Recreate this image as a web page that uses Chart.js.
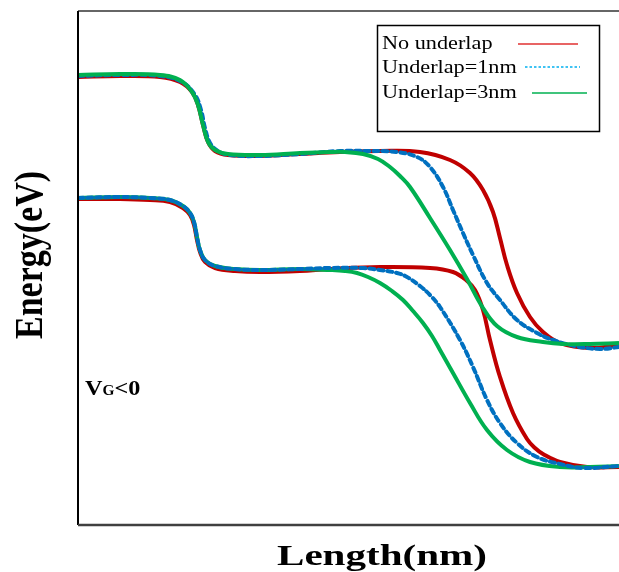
<!DOCTYPE html>
<html>
<head>
<meta charset="utf-8">
<script src="https://cdn.jsdelivr.net/npm/chart.js@4"></script>
<style>
  html, body { margin: 0; padding: 0; background: #fff; overflow: hidden; }
  canvas { display: block; }
</style>
</head>
<body>
<canvas id="bandChart" width="619" height="572"></canvas>
<script>
// 세 가지 underlap 조건의 밴드 다이어그램 (위: 전도대, 아래: 가전자대)
const seriesNames = ['No underlap', 'Underlap=1nm', 'Underlap=3nm'];

// No underlap
const lenRedCB = [0, 8.4, 16.4, 20.4, 22.8, 24, 25, 26, 27.4, 30, 36.4, 44.4, 52.4, 60.4, 68.4, 74.4, 78.4, 81, 83, 84.4, 85.8, 87.8, 90.4, 93, 96.4, 102.4, 108.2];
const eRedCB   = [2.23, 2.24, 2.23, 2.18, 2.08, 1.95, 1.75, 1.58, 1.49, 1.45, 1.44, 1.46, 1.48, 1.49, 1.48, 1.40, 1.27, 1.10, 0.88, 0.62, 0.35, 0.07, -0.17, -0.32, -0.43, -0.48, -0.45];
const lenRedVB = [0, 8.4, 14.4, 18.4, 21, 22.4, 23.2, 23.8, 24.4, 25.4, 27.4, 31.4, 36.4, 44.4, 50.4, 60.4, 70.4, 75, 77.6, 79.4, 81, 82.4, 84.4, 87, 89.8, 91.4, 93, 96.4, 101.8, 108.2];
const eRedVB   = [1.01, 1.01, 1.00, 0.98, 0.92, 0.85, 0.75, 0.60, 0.48, 0.38, 0.32, 0.29, 0.28, 0.29, 0.31, 0.33, 0.32, 0.28, 0.20, 0.10, -0.10, -0.40, -0.77, -1.13, -1.39, -1.48, -1.54, -1.62, -1.67, -1.67];

// Underlap = 1nm
const lenBlueCB = [0, 8.4, 16.4, 20.8, 23.4, 24.6, 25.4, 26.4, 28, 30.4, 36.4, 44.4, 52.4, 58.4, 63.8, 67.8, 70.4, 73, 75, 77, 79, 81.8, 84.4, 87.8, 91.8, 95, 99.4, 104.4, 108.2];
const eBlueCB   = [2.24, 2.25, 2.24, 2.18, 2.05, 1.90, 1.72, 1.57, 1.49, 1.45, 1.44, 1.46, 1.49, 1.49, 1.48, 1.43, 1.33, 1.13, 0.90, 0.67, 0.45, 0.17, 0.00, -0.20, -0.33, -0.40, -0.46, -0.49, -0.47];
const lenBlueVB = [0, 8.4, 14.4, 18.4, 21, 22.4, 23.2, 23.8, 24.4, 25.4, 27.4, 31.4, 36.4, 44.4, 50.4, 57, 60.4, 63.8, 65.8, 68.4, 70.4, 72.4, 76.4, 79, 81.8, 84.4, 87.8, 91.8, 96.4, 101, 108.2];
const eBlueVB   = [1.02, 1.03, 1.02, 1.00, 0.94, 0.87, 0.78, 0.63, 0.50, 0.40, 0.34, 0.31, 0.30, 0.31, 0.32, 0.32, 0.30, 0.27, 0.23, 0.14, 0.05, -0.07, -0.40, -0.67, -1.00, -1.23, -1.43, -1.57, -1.64, -1.68, -1.66];

// Underlap = 3nm
const lenGreenCB = [0, 8.4, 16.4, 20.4, 22.8, 24, 25, 26, 27.4, 30, 36.4, 44.4, 50.4, 53.4, 57, 60, 62.4, 64.4, 66.4, 70.4, 74.4, 77.8, 81, 83.8, 87.8, 93, 97, 102.4, 108.2];
const eGreenCB   = [2.25, 2.26, 2.25, 2.20, 2.08, 1.95, 1.75, 1.58, 1.50, 1.46, 1.45, 1.47, 1.48, 1.48, 1.46, 1.41, 1.33, 1.24, 1.13, 0.82, 0.50, 0.21, -0.08, -0.26, -0.37, -0.42, -0.44, -0.44, -0.43];
const lenGreenVB = [0, 8.4, 14.4, 18.4, 21, 22.4, 23.2, 23.8, 24.4, 25.4, 27.4, 31.4, 36.4, 44.4, 50.4, 53.4, 55.8, 58, 60.4, 62.8, 65, 67, 69, 70.8, 72.4, 75, 78.4, 81.8, 85.8, 90.4, 96.4, 102.4, 108.2];
const eGreenVB   = [1.02, 1.03, 1.02, 1.00, 0.94, 0.87, 0.78, 0.63, 0.50, 0.40, 0.34, 0.31, 0.30, 0.31, 0.30, 0.29, 0.27, 0.23, 0.17, 0.09, 0.00, -0.11, -0.23, -0.36, -0.50, -0.73, -1.03, -1.30, -1.50, -1.62, -1.67, -1.67, -1.66];

const RED = '#C00000';
const BLUE = '#0070C0';
const GREEN = '#00B050';

const toPoints = (xs, ys) => xs.map((x, i) => ({ x: x, y: ys[i] }));

const lineSet = (label, xs, ys, color, order, dashed) => ({
    label: label,
    data: toPoints(xs, ys),
    borderColor: color,
    borderWidth: 4,
    borderDash: dashed ? [5, 4] : [],
    borderCapStyle: dashed ? 'round' : 'butt',
    pointRadius: 0,
    fill: false,
    tension: 0.4,
    order: order
});

// 테두리, 범례, 축 제목, V_G<0 글자를 그리는 플러그인
const decorPlugin = {
    id: 'decor',
    afterDraw(chart) {
        const c = chart.ctx;
        const a = chart.chartArea;
        c.save();

        // 위/왼쪽/아래 테두리
        c.strokeStyle = '#333';
        c.lineWidth = 1.5;
        c.beginPath(); c.moveTo(a.left, a.top); c.lineTo(a.right, a.top); c.stroke();
        c.strokeStyle = '#000';
        c.lineWidth = 2;
        c.beginPath(); c.moveTo(a.left, a.top); c.lineTo(a.left, a.bottom); c.stroke();
        c.strokeStyle = '#404040';
        c.lineWidth = 2.5;
        c.beginPath(); c.moveTo(a.left, a.bottom); c.lineTo(a.right, a.bottom); c.stroke();

        // 가로로 약간 늘어난 글자
        const stretchText = (txt, x, y, font, sx, align) => {
            c.save();
            c.font = font;
            c.textAlign = align || 'left';
            c.textBaseline = 'alphabetic';
            c.translate(x, y);
            c.scale(sx, 1);
            c.fillText(txt, 0, 0);
            const w = c.measureText(txt).width * sx;
            c.restore();
            return w;
        };
        c.fillStyle = '#000';

        // 범례 상자
        c.strokeStyle = '#000';
        c.lineWidth = 1.5;
        c.strokeRect(377.5, 25.5, 222, 106);
        const legFont = '19px "Liberation Serif", "Times New Roman", serif';
        const legY = [49, 73, 98];
        seriesNames.forEach((name, i) => stretchText(name, 382, legY[i], legFont, 1.17));

        c.lineWidth = 1.5;
        c.strokeStyle = '#E03030';
        c.beginPath(); c.moveTo(518, 44); c.lineTo(578, 44); c.stroke();
        c.strokeStyle = '#00B0F0';
        c.setLineDash([2.5, 2]);
        c.beginPath(); c.moveTo(525, 67); c.lineTo(580, 67); c.stroke();
        c.setLineDash([]);
        c.strokeStyle = GREEN;
        c.beginPath(); c.moveTo(532, 93); c.lineTo(587, 93); c.stroke();

        // V_G<0
        const bold22 = 'bold 22px "Liberation Serif", "Times New Roman", serif';
        let px = 85;
        px += stretchText('V', px, 395, bold22, 1.1);
        px += stretchText('G', px, 395, 'bold 14px "Liberation Serif", "Times New Roman", serif', 1.1);
        stretchText('<0', px, 395, bold22, 1.1);

        // x축 제목
        stretchText('Length(nm)', 382, 565, 'bold 30px "Liberation Serif", "Times New Roman", serif', 1.37, 'center');

        // y축 제목 (세로)
        c.save();
        c.font = 'bold 34px "Liberation Serif", "Times New Roman", serif';
        c.textAlign = 'center';
        c.textBaseline = 'alphabetic';
        c.translate(42, 255);
        c.scale(1.16, 1);
        c.rotate(-Math.PI / 2);
        c.fillText('Energy(eV)', 0, 0);
        c.restore();

        c.restore();
    }
};

const ctx = document.getElementById('bandChart').getContext('2d');
const bandChart = new Chart(ctx, {
    type: 'line',
    data: {
        datasets: [
            lineSet(seriesNames[0], lenRedCB, eRedCB, RED, 3, false),
            lineSet(seriesNames[1], lenBlueCB, eBlueCB, BLUE, 2, true),
            lineSet(seriesNames[2], lenGreenCB, eGreenCB, GREEN, 1, false),
            lineSet(seriesNames[0], lenRedVB, eRedVB, RED, 3, false),
            lineSet(seriesNames[2], lenGreenVB, eGreenVB, GREEN, 2, false),
            lineSet(seriesNames[1], lenBlueVB, eBlueVB, BLUE, 1, true)
        ]
    },
    options: {
        responsive: false,
        animation: false,
        layout: { padding: { left: 78, top: 11, right: 0, bottom: 47 } },
        scales: {
            x: { type: 'linear', min: 0, max: 108.2, display: false },
            y: { min: -2.25, max: 2.89, display: false }
        },
        plugins: {
            legend: { display: false },
            tooltip: { enabled: false }
        }
    },
    plugins: [decorPlugin]
});
</script>
</body>
</html>
